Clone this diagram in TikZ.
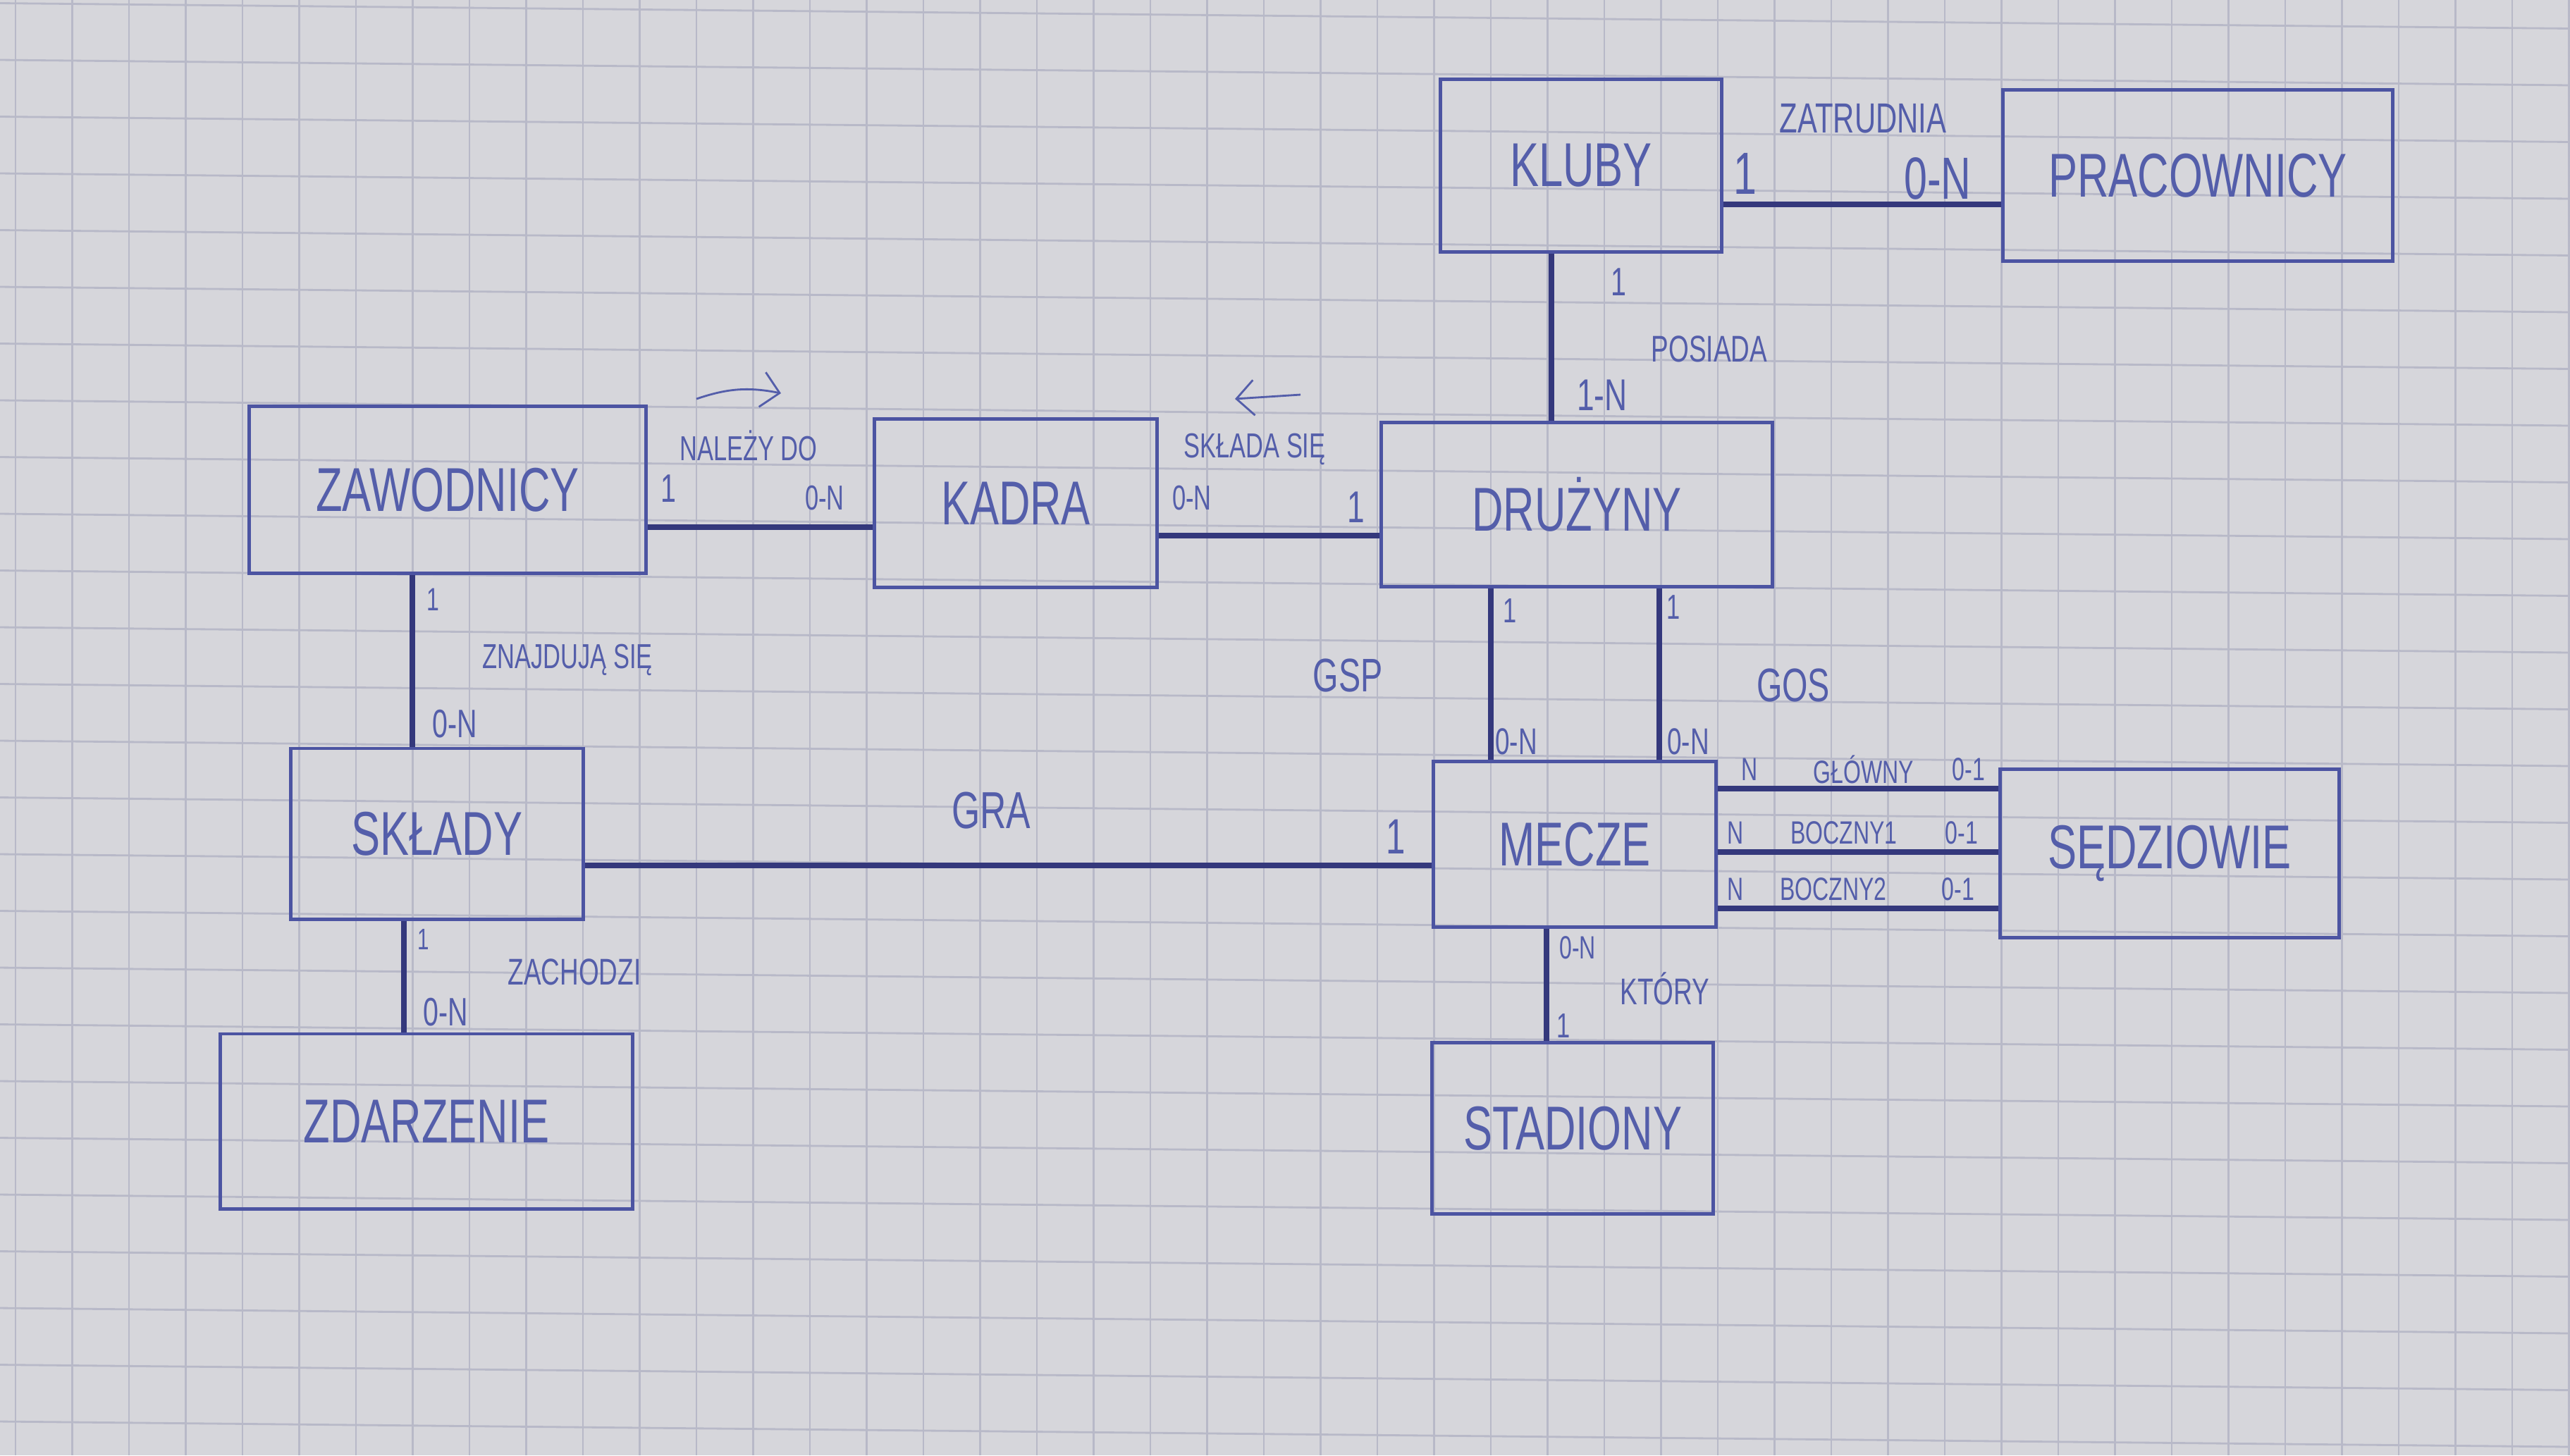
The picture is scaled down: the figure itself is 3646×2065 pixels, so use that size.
\documentclass[tikz,border=0pt]{standalone}
\usepackage{fontspec}
\setmainfont{Liberation Sans}[FakeStretch=0.7]
\usetikzlibrary{arrows.meta}

\definecolor{paper}{RGB}{214,214,219}
\definecolor{gridline}{RGB}{184,185,200}
\definecolor{ink}{RGB}{84,94,170}
\definecolor{boxink}{RGB}{76,84,162}
\definecolor{darkink}{RGB}{52,56,124}

\newcommand{\fs}[1]{\fontsize{#1}{#1}\selectfont}

\tikzset{
  entity/.style={draw=boxink, line width=1.4pt, rectangle, inner sep=0pt, text=ink, font=\fs{25}},
  rel/.style={draw=darkink, line width=2.2pt},
  relname/.style={text=ink, inner sep=0pt, font=\fs{15}},
  card/.style={text=ink, inner sep=0pt, font=\fs{16}},
}

\begin{document}
\begin{tikzpicture}[x=0.01cm, y=-0.01cm]
  % paper
  \useasboundingbox (0,0) rectangle (3646,2065);
  \fill [paper] (0,0) rectangle (3646,2065);
  \begin{scope}
    \clip (0,0) rectangle (3646,2065);
    \foreach \k in {-5,...,42}{
      \draw [gridline, line width=0.8pt] ({344+80.5*\k},0) -- ({344+80.5*\k},2065);
    }
    \foreach \k in {-1,...,26}{
      \draw [gridline, line width=0.8pt] (0,{4.5+80.5*\k}) -- (3646,{40.5+80.5*\k});
    }
  \end{scope}

  % entities
  \node [entity, minimum width=3.98cm, minimum height=2.44cm] (kluby) at (2243,235) {KLUBY};
  \node [entity, minimum width=5.53cm, minimum height=2.42cm] (pracownicy) at (3118,249) {PRACOWNICY};
  \node [entity, minimum width=5.62cm, minimum height=2.36cm] (zawodnicy) at (635,695) {ZAWODNICY};
  \node [entity, minimum width=4.01cm, minimum height=2.38cm] (kadra) at (1441,714) {KADRA};
  \node [entity, minimum width=5.55cm, minimum height=2.33cm] (druzyny) at (2237,716) {DRUŻYNY};
  \node [entity, minimum width=4.15cm, minimum height=2.42cm] (sklady) at (620,1183) {SKŁADY};
  \node [entity, minimum width=4.00cm, minimum height=2.35cm] (mecze) at (2234,1198) {MECZE};
  \node [entity, minimum width=4.81cm, minimum height=2.39cm] (sedziowie) at (3078,1211) {SĘDZIOWIE};
  \node [entity, minimum width=5.84cm, minimum height=2.48cm] (zdarzenie) at (605,1591) {ZDARZENIE};
  \node [entity, minimum width=3.98cm, minimum height=2.43cm] (stadiony) at (2231,1601) {STADIONY};

  % relationships
  \draw [rel] ([yshift=-5.5mm]kluby.east) coordinate (zat) -- (zat -| pracownicy.west);
  \draw [rel] ([xshift=-4.2mm]kluby.south) coordinate (pos) -- (pos |- druzyny.north);
  \draw [rel] ([yshift=-5.3mm]zawodnicy.east) coordinate (nal) -- (nal -| kadra.west);
  \draw [rel] ([yshift=-4.6mm]kadra.east) coordinate (skl) -- (skl -| druzyny.west);
  \draw [rel] ([xshift=-5mm]zawodnicy.south) coordinate (zna) -- (zna |- sklady.north);
  \draw [rel] ([yshift=-4.5mm]sklady.east) coordinate (gra) -- (gra -| mecze.west);
  \draw [rel] ([xshift=-4.7mm]sklady.south) coordinate (zac) -- (zac |- zdarzenie.north);
  \draw [rel] ([xshift=-12.2mm]druzyny.south) coordinate (gsp) -- (gsp |- mecze.north);
  \draw [rel] ([xshift=11.7mm]druzyny.south) coordinate (gos) -- (gos |- mecze.north);
  \foreach \s/\i in {7.9/1,-1.1/2,-9.1/3}{
    \draw [rel] ([yshift=\s mm]mecze.east) coordinate (sd\i) -- (sd\i -| sedziowie.west);
  }
  \draw [rel] ([xshift=-4mm]mecze.south) coordinate (kto) -- (kto |- stadiony.north);

  % labels
  \node [relname, font=\fs{17}] (zatl) at (2643,168) {ZATRUDNIA};
  \node [card, font=\fs{24}] (zat1) at (2476,246) {1};
  \node [card, font=\fs{24}] (zatn) at (2749,253) {0-N};

  \node [card] (pos1) at (2296,400) {1};
  \node [relname] (posl) at (2425,495) {POSIADA};
  \node [card, font=\fs{18}] (posn) at (2273,561) {1-N};

  \node [relname, font=\fs{14}] (nall) at (1062,632) {NALEŻY DO};
  \node [card] (nal1) at (948,693) {1};
  \node [card, font=\fs{14}] (naln) at (1170,707) {0-N};

  \node [relname, font=\fs{14}] (skll) at (1780,637) {SKŁADA SIĘ};
  \node [card, font=\fs{14}] (skln) at (1691,707) {0-N};
  \node [card, font=\fs{18}] (skl1) at (1924,720) {1};

  \node [relname, font=\fs{14}] (znal) at (805,936) {ZNAJDUJĄ SIĘ};
  \node [card, font=\fs{13}] (zna1) at (614,851) {1};
  \node [card] (znan) at (645,1027) {0-N};

  \node [relname, font=\fs{21}] (gral) at (1406,1150) {GRA};
  \node [card, font=\fs{20}] (gra1) at (1980,1187) {1};

  \node [relname, font=\fs{19}] (gspl) at (1912,958) {GSP};
  \node [card, font=\fs{14}] (gsp1) at (2142,867) {1};
  \node [card, font=\fs{15}] (gspn) at (2151,1052) {0-N};
  \node [relname, font=\fs{19}] (gosl) at (2544,972) {GOS};
  \node [card, font=\fs{14}] (gos1) at (2374,862) {1};
  \node [card, font=\fs{15}] (gosn) at (2395,1052) {0-N};

  \node [relname] (zacl) at (815,1379) {ZACHODZI};
  \node [card, font=\fs{12}] (zac1) at (601,1333) {1};
  \node [card] (zacn) at (632,1436) {0-N};

  \node [card, font=\fs{13}] (sd1n) at (2482,1092) {N};
  \node [relname, font=\fs{13}] (sd1l) at (2644,1092) {GŁÓWNY};
  \node [card, font=\fs{13}] (sd11) at (2793,1092) {0-1};
  \node [card, font=\fs{13}] (sd2n) at (2462,1182) {N};
  \node [relname, font=\fs{13}] (sd2l) at (2616,1182) {BOCZNY1};
  \node [card, font=\fs{13}] (sd21) at (2783,1182) {0-1};
  \node [card, font=\fs{13}] (sd3n) at (2462,1262) {N};
  \node [relname, font=\fs{13}] (sd3l) at (2601,1262) {BOCZNY2};
  \node [card, font=\fs{13}] (sd31) at (2778,1262) {0-1};

  \node [card, font=\fs{13}] (kton) at (2238,1345) {0-N};
  \node [relname] (ktol) at (2362,1403) {KTÓRY};
  \node [card, font=\fs{14}] (kto1) at (2218,1456) {1};

  % reading direction
  \draw [ink, line width=0.8pt, -{Straight Barb[length=2.5mm]}] (988,566) to [bend left=15] (1108,558);
  \draw [ink, line width=0.8pt, -{Straight Barb[length=2.5mm]}] (1845,560) -- (1752,566);
\end{tikzpicture}
\end{document}
